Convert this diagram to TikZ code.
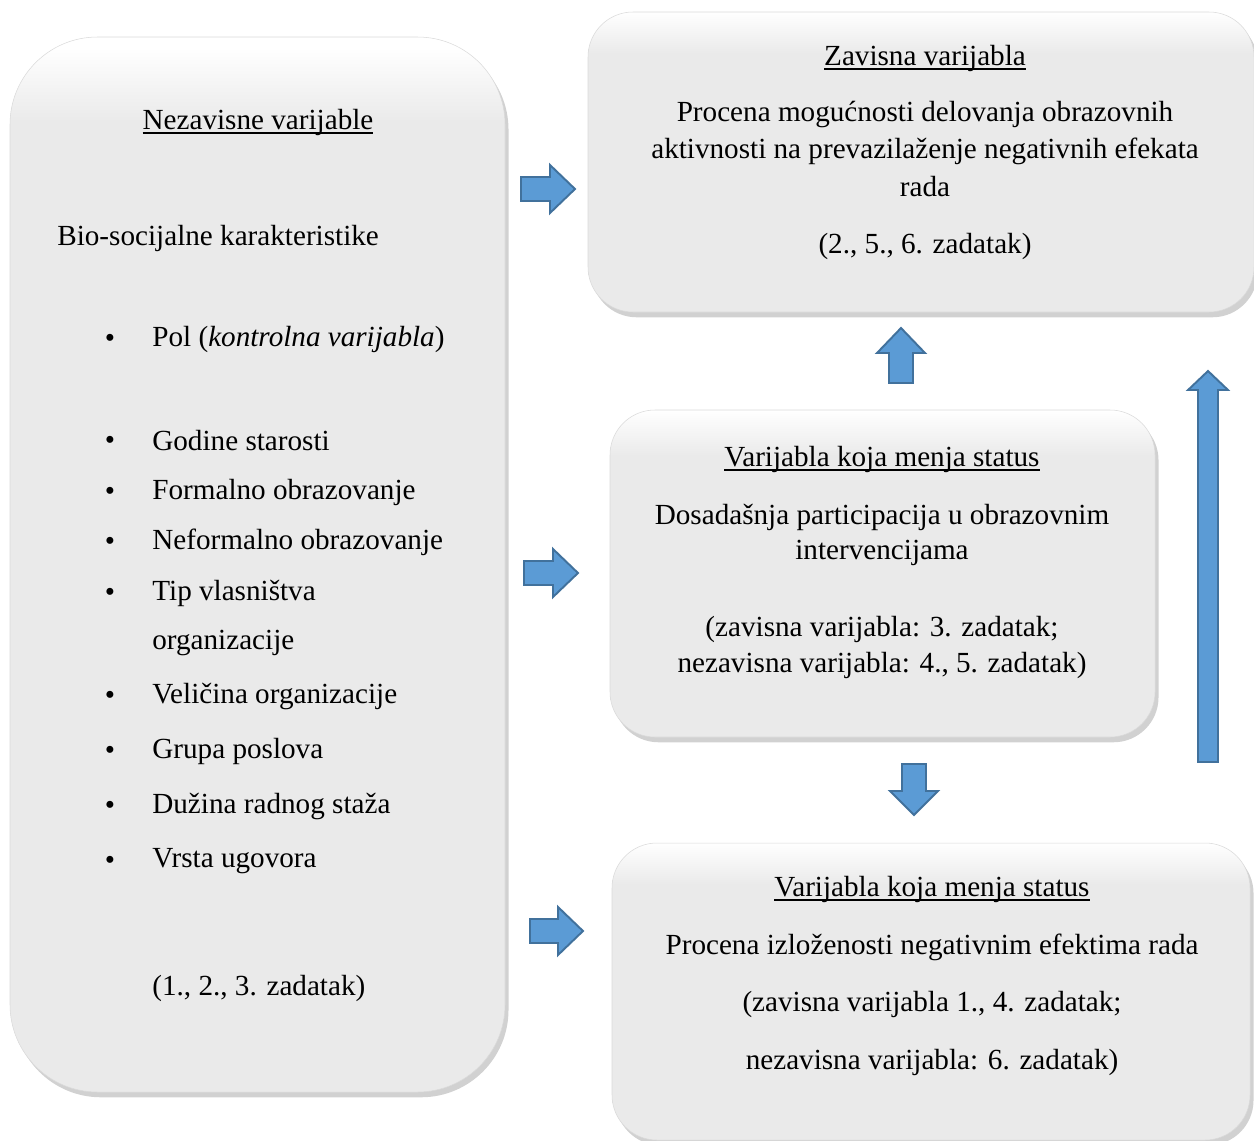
\documentclass[tikz,border=0pt]{standalone}
\usepackage{fontspec}
\setmainfont{Liberation Serif}
\usetikzlibrary{shadows}
\newcommand\myul[1]{\setbox0\hbox{#1}\rlap{\rule[-2.6pt]{\wd0}{0.7pt}}\box0}
\definecolor{boxgray}{HTML}{EAEAEA}
\definecolor{arrfill}{HTML}{5B9BD5}
\definecolor{arrdraw}{HTML}{41719C}
\pgfdeclareverticalshading{boxshade}{100bp}{color(0bp)=(boxgray); color(25bp)=(boxgray); color(68bp)=(boxgray); color(75bp)=(white); color(100bp)=(white)}
\pgfdeclareverticalshading{tallshade}{100bp}{color(0bp)=(boxgray); color(25bp)=(boxgray); color(71bp)=(boxgray); color(74.5bp)=(white); color(100bp)=(white)}
\tikzset{
  box/.style={shading=boxshade, draw=gray!30, line width=0.3pt,
    drop shadow={shadow xshift=2pt, shadow yshift=-3pt, opacity=0.45, fill=gray!80}},
  txt/.style={inner sep=0pt, font=\fontsize{16.6}{20}\selectfont},
  blockarrow/.style={fill=arrfill, draw=arrdraw, line width=1.1pt, line join=miter},
}
\begin{document}
\begin{tikzpicture}[x=0.02cm,y=-0.02cm]
\useasboundingbox (0,0) rectangle (1254,1140);
% boxes
\path[box, shading=tallshade, rounded corners=1.75cm] (10,37) rectangle (505,1092);
\path[box, rounded corners=0.9cm] (588,12) rectangle (1254,312);
\path[box, rounded corners=0.9cm] (610,410) rectangle (1155,737);
\path[box, rounded corners=0.9cm] (612,843) rectangle (1250,1140);
% left box text
\node[txt] (lt) at (258,122) {\myul{Nezavisne varijable}};
\node[txt, anchor=west] (bio) at (57,238) {Bio-socijalne karakteristike};
\foreach \y/\t [count=\i] in {339/{Pol (\textit{kontrolna varijabla})},441/{Godine starosti},492/{Formalno obrazovanje},542/{Neformalno obrazovanje},593/{Tip vlasništva},696/{Veličina organizacije},751/{Grupa poslova},806/{Dužina radnog staža},861/{Vrsta ugovora}}{
  \node[txt] (b\i) at (110,\y+2) {\textbullet};
  \node[txt, anchor=west] (i\i) at (152,\y) {\t};
}
\node[txt, anchor=west] (org) at (152,643) {organizacije};
\node[txt, anchor=west] (lz) at (152,988) {(1., 2., 3. zadatak)};
% top right
\node[txt] (t0) at (925,58) {\myul{Zavisna varijabla}};
\node[txt] (t1) at (925,115) {Procena mogućnosti delovanja obrazovnih};
\node[txt] (t2) at (925,151) {aktivnosti na prevazilaženje negativnih efekata};
\node[txt] (t3) at (925,187) {rada};
\node[txt] (t4) at (925,246) {(2., 5., 6. zadatak)};
% middle
\node[txt] (m0) at (882,459) {\myul{Varijabla koja menja status}};
\node[txt] (m1) at (882,517) {Dosadašnja participacija u obrazovnim};
\node[txt] (m2) at (882,553) {intervencijama};
\node[txt] (m3) at (882,629) {(zavisna varijabla: 3. zadatak;};
\node[txt] (m4) at (882,665) {nezavisna varijabla: 4., 5. zadatak)};
% bottom
\node[txt] (d0) at (932,889) {\myul{Varijabla koja menja status}};
\node[txt] (d1) at (932,947) {Procena izloženosti negativnim efektima rada};
\node[txt] (d2) at (932,1004) {(zavisna varijabla 1., 4. zadatak;};
\node[txt] (d3) at (932,1062) {nezavisna varijabla: 6. zadatak)};
% right arrows
\draw[blockarrow] (521,177) -- (550,177) -- (550,165) -- (575,189) -- (550,213) -- (550,201) -- (521,201) -- cycle;
\draw[blockarrow] (524,561) -- (553,561) -- (553,549) -- (578,573) -- (553,597) -- (553,585) -- (524,585) -- cycle;
\draw[blockarrow] (530,919) -- (558,919) -- (558,907) -- (583,931) -- (558,955) -- (558,943) -- (530,943) -- cycle;
% up arrow
\draw[blockarrow] (889,383) -- (889,353) -- (877,353) -- (901,328) -- (925,353) -- (913,353) -- (913,383) -- cycle;
% down arrow
\draw[blockarrow] (902,764) -- (926,764) -- (926,791) -- (938,791) -- (914,815) -- (890,791) -- (902,791) -- cycle;
% long up arrow
\draw[blockarrow] (1198,762) -- (1198,390) -- (1188,390) -- (1208,371) -- (1228,390) -- (1218,390) -- (1218,762) -- cycle;
\end{tikzpicture}
\end{document}
